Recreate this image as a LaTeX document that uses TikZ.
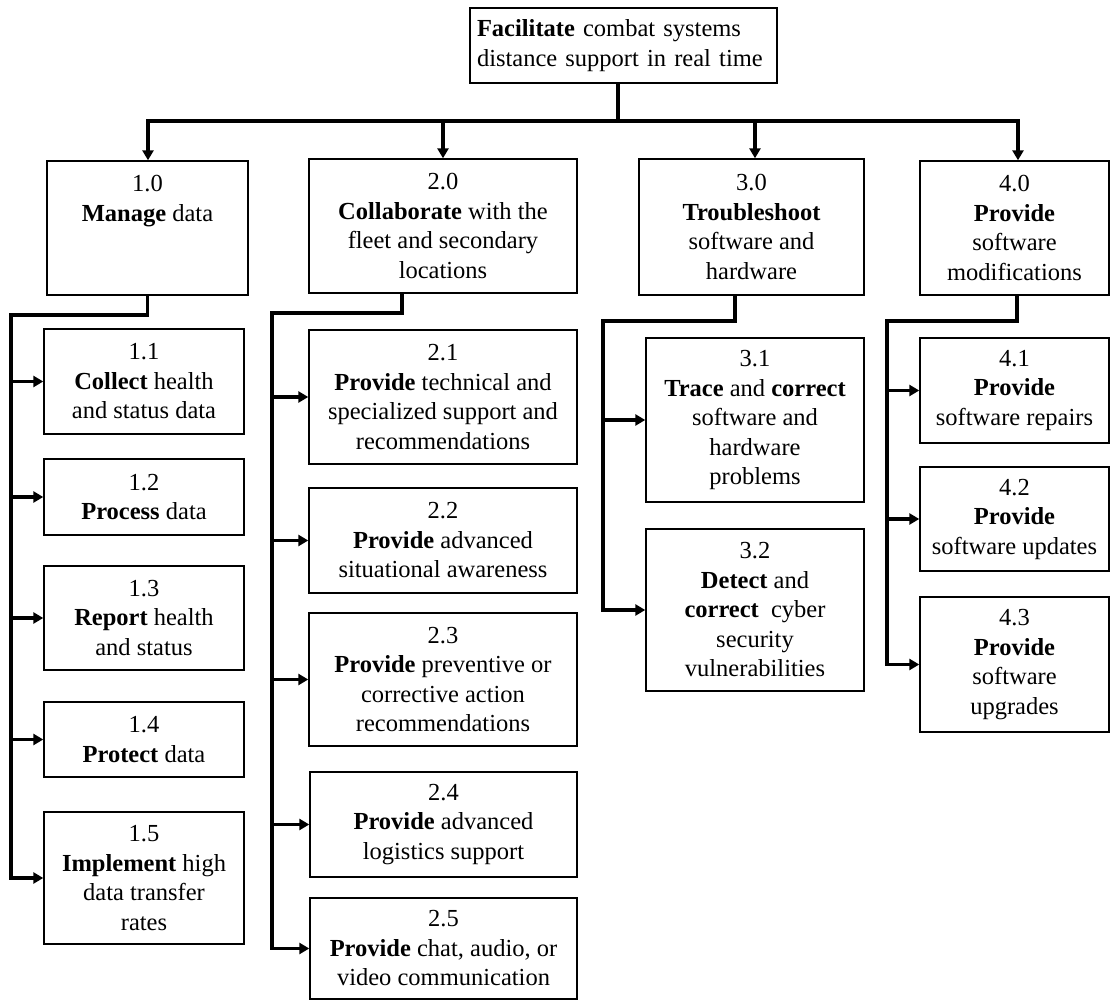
\documentclass[tikz,border=0pt]{standalone}
\usepackage{fontspec}
\setmainfont{Liberation Serif}
\usetikzlibrary{arrows.meta}

\begin{document}
\begin{tikzpicture}[x=1pt,y=-1pt,
  fbox/.style={draw=black,line width=1.4pt,align=center,inner sep=0pt,
    font=\fontsize{24.5}{29.5}\selectfont},
  conn/.style={line width=3.2pt,line join=miter},
  arr/.style={conn,-{Triangle[length=10pt,width=11pt]}}]
\useasboundingbox (0,0) rectangle (1112,1001);

% root
\node[fbox,align=left,text width=293pt,inner xsep=7pt,minimum height=75pt] (top) at (623.5,45.5)
  {\textbf{Facilitate} combat systems\\distance support in real time};

% level 1
\node[fbox,minimum width=201pt,minimum height=134pt] (b10) at (147.5,228)
  {1.0\\\textbf{Manage} data\\\mbox{}\\\mbox{}};
\node[fbox,minimum width=268pt,minimum height=134pt] (b20) at (443,226)
  {2.0\\\textbf{Collaborate} with the\\fleet and secondary\\locations};
\node[fbox,minimum width=225pt,minimum height=136pt] (b30) at (751.5,227)
  {3.0\\\textbf{Troubleshoot}\\software and\\hardware};
\node[fbox,minimum width=189pt,minimum height=134pt] (b40) at (1014.5,228)
  {4.0\\\textbf{Provide}\\software\\modifications};

% branch 1
\node[fbox,minimum width=200pt,minimum height=105pt] (b11) at (144,381.5)
  {1.1\\\textbf{Collect} health\\and status data};
\node[fbox,minimum width=200pt,minimum height=76pt] (b12) at (144,497)
  {1.2\\\textbf{Process} data};
\node[fbox,minimum width=200pt,minimum height=104pt] (b13) at (144,618)
  {1.3\\\textbf{Report} health\\and status};
\node[fbox,minimum width=200pt,minimum height=75pt] (b14) at (144,739.5)
  {1.4\\\textbf{Protect} data};
\node[fbox,minimum width=200pt,minimum height=132pt] (b15) at (144,878)
  {1.5\\\textbf{Implement} high\\data transfer\\rates};

% branch 2
\node[fbox,minimum width=268pt,minimum height=134pt] (b21) at (443,397)
  {2.1\\\textbf{Provide} technical and\\specialized support and\\recommendations};
\node[fbox,minimum width=268pt,minimum height=105pt] (b22) at (443,540.5)
  {2.2\\\textbf{Provide} advanced\\situational awareness};
\node[fbox,minimum width=268pt,minimum height=133pt] (b23) at (443,679.5)
  {2.3\\\textbf{Provide} preventive or\\corrective action\\recommendations};
\node[fbox,minimum width=267pt,minimum height=105pt] (b24) at (443.5,824.5)
  {2.4\\\textbf{Provide} advanced\\logistics support};
\node[fbox,minimum width=267pt,minimum height=101pt] (b25) at (443.5,948.5)
  {2.5\\\textbf{Provide} chat, audio, or\\video communication};

% branch 3
\node[fbox,minimum width=218pt,minimum height=164pt] (b31) at (755,420)
  {3.1\\\textbf{Trace} and \textbf{correct}\\software and\\hardware\\problems};
\node[fbox,minimum width=218pt,minimum height=162pt] (b32) at (755,610)
  {3.2\\\textbf{Detect} and\\\textbf{correct}\ \ cyber\\security\\vulnerabilities};

% branch 4
\node[fbox,minimum width=189pt,minimum height=105pt] (b41) at (1014.5,390.5)
  {4.1\\\textbf{Provide}\\software repairs};
\node[fbox,minimum width=189pt,minimum height=104pt] (b42) at (1014.5,519)
  {4.2\\\textbf{Provide}\\software updates};
\node[fbox,minimum width=189pt,minimum height=135pt] (b43) at (1014.5,664.5)
  {4.3\\\textbf{Provide}\\software\\upgrades};

% root to level 1
\coordinate (j0) at (618,121);
\coordinate (busL) at (148,121);
\coordinate (busR) at (1018,121);
\coordinate (bus3) at (755,121);
\draw[conn] (top.south -| j0) -- (j0);
\draw[conn] ([xshift=-1.6pt]busL) -- ([xshift=1.6pt]busR);
\draw[arr] (busL) -- (b10.north -| busL);
\draw[arr] (b20.north |- busL) -- (b20.north);
\draw[arr] (bus3) -- (b30.north -| bus3);
\draw[arr] (busR) -- (b40.north -| busR);

% branch 1 connectors
\coordinate (s1) at (11,315);
\draw[arr] (b10.south) |- (s1) |- (b15.west);
\foreach \b in {b11,b12,b13,b14}
  \draw[arr] (s1 |- \b.west) -- (\b.west);

% branch 2 connectors
\coordinate (d2) at (402,293);
\coordinate (s2) at (272,313);
\draw[arr] (d2) |- (s2) |- (b25.west);
\foreach \b in {b21,b22,b23,b24}
  \draw[arr] (s2 |- \b.west) -- (\b.west);

% branch 3 connectors
\coordinate (d3) at (735,295);
\coordinate (s3) at (603,321);
\draw[arr] (d3) |- (s3) |- (b32.west);
\draw[arr] (s3 |- b31.west) -- (b31.west);

% branch 4 connectors
\coordinate (d4) at (1017,295);
\coordinate (s4) at (887,321);
\draw[arr] (d4) |- (s4) |- (b43.west);
\foreach \b in {b41,b42}
  \draw[arr] (s4 |- \b.west) -- (\b.west);
\end{tikzpicture}
\end{document}
